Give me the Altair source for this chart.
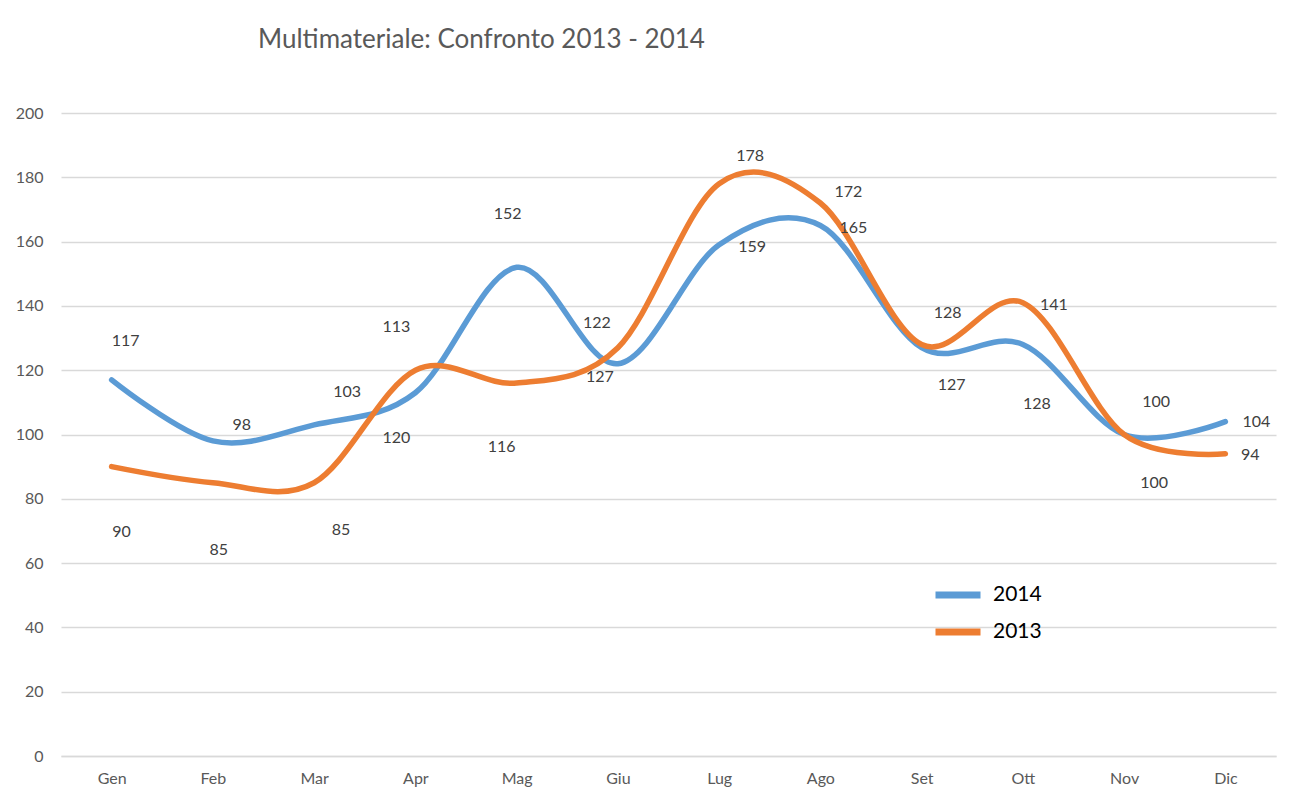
import altair as alt
import pandas as pd

months = ["Gen", "Feb", "Mar", "Apr", "Mag", "Giu", "Lug", "Ago", "Set", "Ott", "Nov", "Dic"]
v2014 = [117, 98, 103, 113, 152, 122, 159, 165, 127, 128, 100, 104]
v2013 = [90, 85, 85, 120, 116, 127, 178, 172, 128, 141, 100, 94]
series = ["2014", "2013"]

# label placement (pixel offsets of each data label from its point)
lab_dx_2014 = [14, 29, 33, -19, -9, -21, 33, 33, 30, 14, 32, 31]
lab_dy_2014 = [-39, -16, -33, -66, -53, -41, 2, 2, 37, 60, -33, 0]
lab_dx_2013 = [10, 6, 27, -19, -15, -18, 31, 28, 26, 31, 30, 25]
lab_dy_2013 = [65, 67, 47, 68, 64, 29, -28, -11, -31, 2, 48, 1]

W, H = 1215, 643
Y_MAX = 200
N = len(months)

rows = []
for i, m in enumerate(months):
    rows.append({"idx": i, "Mese": m, "Anno": "2014", "Valore": v2014[i],
                 "dx": lab_dx_2014[i], "dy": lab_dy_2014[i]})
for i, m in enumerate(months):
    rows.append({"idx": i, "Mese": m, "Anno": "2013", "Valore": v2013[i],
                 "dx": lab_dx_2013[i], "dy": lab_dy_2013[i]})
df = pd.DataFrame(rows)

FONT = "Lato"
month_expr = "[" + ",".join(f"'{m}'" for m in months) + "][datum.value]"

xscale = alt.Scale(domain=[-0.5, N - 0.5], nice=False, zero=False)
yscale = alt.Scale(domain=[0, Y_MAX], nice=False)

x = alt.X("idx:Q", title=None, scale=xscale,
          axis=alt.Axis(values=list(range(N)), labelExpr=month_expr, grid=False,
                        ticks=False, domain=True, domainColor="#D9D9D9",
                        domainWidth=1.5, labelPadding=14, labelFontSize=16,
                        labelColor="#595959", labelFont=FONT, labelFlush=False))
y = alt.Y("Valore:Q", title=None, scale=yscale,
          axis=alt.Axis(values=list(range(0, 201, 20)), ticks=False, domain=False,
                        grid=True, gridColor="#D9D9D9", gridWidth=1.5,
                        labelPadding=18, labelFontSize=16, labelColor="#595959",
                        labelFont=FONT))
color = alt.Color("Anno:N", scale=alt.Scale(domain=series, range=["#5B9BD5", "#ED7D31"]),
                  sort=series,
                  legend=alt.Legend(title=None, orient="none", legendX=886, legendY=471,
                                    symbolType="M-3,0H3", symbolSize=225, symbolStrokeWidth=7,
                                    labelFontSize=21, labelColor="#000000", labelFont=FONT,
                                    labelOffset=24, rowPadding=9))

lines = alt.Chart(df).mark_line(interpolate="cardinal", tension=0, strokeWidth=5.5,
                                strokeCap="round", strokeJoin="round").encode(
    x=x, y=y, color=color, detail="Anno:N")

labels = alt.Chart(df).transform_calculate(
    lx=f"datum.idx + datum.dx * {N} / {W}",
    ly=f"datum.Valore - datum.dy * {Y_MAX} / {H}",
).mark_text(fontSize=16, font=FONT, color="#404040",
            align="center", baseline="middle").encode(
    x=alt.X("lx:Q", scale=xscale),
    y=alt.Y("ly:Q", scale=yscale),
    text="Valore:Q")

chart = alt.layer(lines, labels).properties(
    width=W, height=H,
    autosize=alt.AutoSizeParams(type="none"),
    padding={"left": 53, "top": 105, "right": 10, "bottom": 40},
    title=alt.TitleParams("Multimateriale: Confronto 2013 - 2014", anchor="middle",
                          frame="group", dx=-187, offset=52, fontSize=26,
                          font=FONT, fontWeight="normal", color="#595959"),
).configure(background="#FFFFFF").configure_view(stroke=None)

chart.save("out.html", embed_options={"renderer": "svg", "actions": False})
